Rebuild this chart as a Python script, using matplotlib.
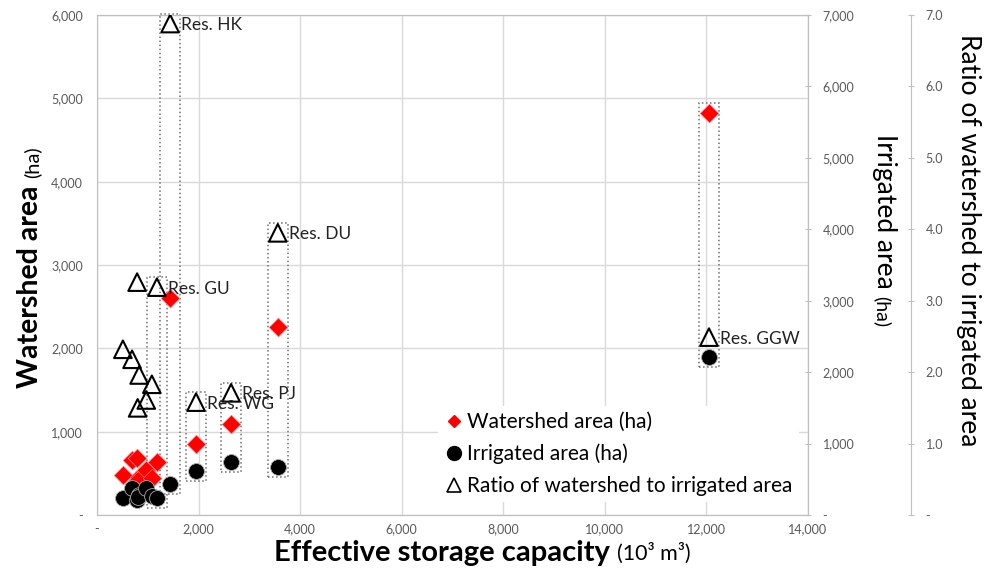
import matplotlib
matplotlib.use('Agg')
import matplotlib.pyplot as plt
from matplotlib.ticker import FuncFormatter, MultipleLocator
from matplotlib.lines import Line2D
from matplotlib.patches import Rectangle

plt.rcParams['font.family'] = ['Lato', 'DejaVu Sans']

# effective storage capacity (10^3 m^3), one entry per reservoir
storage = [510, 690, 790, 830, 800, 970, 1080, 1180, 1440, 1950, 2640, 3560, 12050]
watershed = [480, 660, 690, 456, 420, 540, 444, 636, 2604, 852, 1092, 2256, 4824]
irrigated = [238, 378, 210, 280, 250, 378, 260, 238, 434, 616, 742, 672, 2212]
ratio = [2.32, 2.18, 3.26, 1.96, 1.50, 1.61, 1.83, 3.19, 6.88, 1.58, 1.71, 3.95, 2.49]
names = ['', '', '', '', '', '', '', 'Res. GU', 'Res. HK', 'Res. WG', 'Res. PJ', 'Res. DU', 'Res. GGW']

tick_col = '#595959'
grid_col = '#d9d9d9'
spine_col = '#bfbfbf'

fig = plt.figure(figsize=(9.89, 5.79), dpi=100)
ax = fig.add_axes([97/989, 64/579, 711/989, 500/579])
ax2 = ax.twinx()
ax3 = ax.twinx()
ax3.spines['right'].set_position(('axes', 1.145))

ax.set_xlim(0, 14000)
ax.set_ylim(0, 6000)
ax2.set_ylim(0, 7000)
ax3.set_ylim(0, 7)
ax.xaxis.set_major_locator(MultipleLocator(2000))
ax.yaxis.set_major_locator(MultipleLocator(1000))
ax2.yaxis.set_major_locator(MultipleLocator(1000))
ax3.yaxis.set_major_locator(MultipleLocator(1))

big = FuncFormatter(lambda v, p: '-' if v == 0 else f'{v:,.0f}')
ax.xaxis.set_major_formatter(big)
ax.yaxis.set_major_formatter(big)
ax2.yaxis.set_major_formatter(big)
ax3.yaxis.set_major_formatter(FuncFormatter(lambda v, p: '-' if v == 0 else f'{v:.1f}'))

ax.grid(True, color=grid_col, lw=1)
ax.set_axisbelow(True)
for a in (ax, ax2, ax3):
    for s in a.spines.values():
        s.set_color(spine_col)
ax3.spines['left'].set_visible(False)
ax3.spines['top'].set_visible(False)
ax3.spines['bottom'].set_visible(False)
ax2.spines['left'].set_visible(False)

ax.tick_params(axis='both', length=0, labelsize=9, colors=tick_col)
ax.tick_params(axis='y', pad=10)
ax.tick_params(axis='x', pad=6)
ax2.tick_params(axis='y', direction='inout', length=5, color=spine_col, labelsize=9, labelcolor=tick_col, pad=8)
ax3.tick_params(axis='y', direction='inout', length=5, color=spine_col, labelsize=9, labelcolor=tick_col, pad=8)

ax.scatter(storage, watershed, marker='D', s=90, color='#ff0000', edgecolors='#ff8080', linewidths=0.5, zorder=3)
ax2.scatter(storage, irrigated, marker='o', s=130, color='black', edgecolors='#aaaaaa', linewidths=0.6, zorder=3)
ax3.scatter(storage, ratio, marker='^', s=160, facecolors='none', edgecolors='black', linewidths=1.5, zorder=3)

for xs, r, n in zip(storage, ratio, names):
    if n:
        ax3.annotate(n, (xs, r), xytext=(8, -1), textcoords='offset points',
                     ha='left', va='center', fontsize=12.5, color='#222222')

# dotted boxes around the named reservoirs
fig.canvas.draw()
inv = ax.transAxes.inverted()
pad = 10
for xs, w, i, r, n in zip(storage, watershed, irrigated, ratio, names):
    if not n:
        continue
    pts = [ax.transData.transform((xs, w)), ax2.transData.transform((xs, i)),
           ax3.transData.transform((xs, r))]
    xs_px = [p[0] for p in pts]
    ys_px = [p[1] for p in pts]
    x0, y0 = inv.transform((min(xs_px) - pad, min(ys_px) - pad))
    x1, y1 = inv.transform((max(xs_px) + pad, max(ys_px) + pad))
    ax.add_patch(Rectangle((x0, y0), x1 - x0, y1 - y0, transform=ax.transAxes,
                           fill=False, ls=':', lw=1.1, ec='#707070', zorder=2, clip_on=False))

handles = [
    Line2D([], [], marker='D', ls='none', color='#ff0000', markersize=6),
    Line2D([], [], marker='o', ls='none', color='black', markersize=10),
    Line2D([], [], marker='^', ls='none', mfc='none', mec='black', markersize=10, mew=1.2),
]
labels = ['Watershed area (ha)', 'Irrigated area (ha)', 'Ratio of watershed to irrigated area']
leg = ax3.legend(handles, labels, loc='lower left', bbox_to_anchor=(0.465, 0.005), frameon=True,
                 fontsize=15, handletextpad=0.2, handlelength=0.9, labelspacing=0.55, borderpad=0.3)
leg.get_frame().set_edgecolor('none')
leg.get_frame().set_facecolor('white')
leg.get_frame().set_alpha(1)

# axis titles: bold part plus smaller unit part
t1 = fig.text(0.447, 0.022, 'Effective storage capacity', fontsize=21, fontweight='bold',
              ha='center', va='bottom')
ax.annotate('(10³ m³)', xy=(1, 0.1), xycoords=t1, xytext=(5, 0), textcoords='offset points',
            ha='left', va='bottom', fontsize=15.5, annotation_clip=False)

t2 = fig.text(0.03, 0.505, 'Watershed area', fontsize=20.5, fontweight='bold',
              rotation=90, ha='center', va='center')
ax.annotate('(ha)', xy=(0.6, 1), xycoords=t2, xytext=(0, 5), textcoords='offset points',
            ha='center', va='bottom', rotation=90, fontsize=14.5, annotation_clip=False)

t3 = fig.text(0.894, 0.635, 'Irrigated area', fontsize=19, rotation=-90, ha='center', va='center')
ax.annotate('(ha)', xy=(0.4, 0), xycoords=t3, xytext=(0, -5), textcoords='offset points',
            ha='center', va='top', rotation=-90, fontsize=14, annotation_clip=False)
fig.text(0.979, 0.585, 'Ratio of watershed to irrigated area', fontsize=19, rotation=-90,
         ha='center', va='center')

fig.savefig('out.png', dpi=100)
